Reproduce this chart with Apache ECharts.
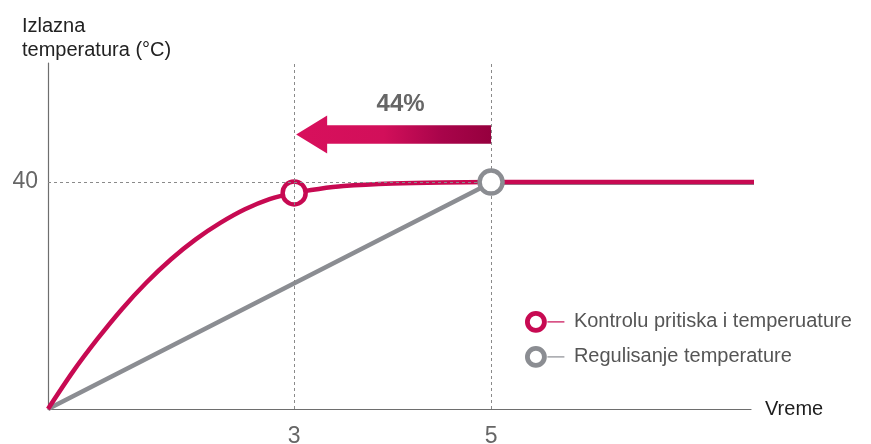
<!DOCTYPE html>
<html>
<head>
<meta charset="utf-8">
<script src="https://cdn.jsdelivr.net/npm/echarts@6/dist/echarts.min.js"></script>
<style>
  html, body { margin: 0; padding: 0; background: #fff; }
  #chart { width: 871px; height: 444px; }
</style>
</head>
<body>
<div id="chart"></div>
<script>
// Time values (x) and outlet temperature readings (°C) for each regulation mode
const pressureTimes = [0.5, 0.75, 1.0, 1.25, 1.5, 1.75, 2.0, 2.25, 2.5, 2.75, 3.0, 3.25, 3.5, 4.0, 4.5, 5, 7.7];
const pressureTemps = [0, 6.5, 12.3, 17.6, 22.3, 26.4, 29.9, 32.8, 35.2, 37.0, 38.1, 38.8, 39.3, 39.75, 39.95, 40, 40];
const tempOnlyTimes = [0.5, 5, 7.7];
const tempOnlyTemps = [0, 39.9, 39.9];

// Highlighted points where each mode reaches the target temperature
const pressureMark = [3, 38.1];
const tempOnlyMark = [5, 40];

// Axis tick labels and guide values
const xTickLabels = [3, 5];
const yTickLabels = [40];
const targetTemp = 40;

// Time-saving arrow (from the slower mode to the faster one) and its text
const savingFrom = 5;
const savingTo = 3;
const savingLevel = 48.4;
const savingText = '44%';

const seriesNames = ['Kontrolu pritiska i temperuature', 'Regulisanje temperature'];

const RED = '#c70a52';
const GRAY = '#8b8d92';
const FONT = '"Liberation Sans", Arial, Helvetica, sans-serif';

const chart = echarts.init(document.getElementById('chart'));

const dashed = { color: '#8a8a8a', width: 1, type: [3, 3] };

const option = {
  animation: false,
  textStyle: { fontFamily: FONT },
  title: {
    text: 'Izlazna\ntemperatura (°C)',
    left: 17,
    top: 9,
    textStyle: { fontFamily: FONT, fontSize: 20, fontWeight: 'normal', color: '#222', lineHeight: 24 }
  },
  grid: { left: 48, right: 120, top: 63, bottom: 35, outerBoundsMode: 'none', containLabel: false },
  xAxis: {
    type: 'value',
    min: 0.5,
    max: 7.64,
    name: 'Vreme',
    nameLocation: 'end',
    nameGap: 14,
    nameTextStyle: { fontFamily: FONT, fontSize: 20, color: '#1e1e1e', verticalAlign: 'middle', padding: [4, 0, 0, 0] },
    axisLine: { lineStyle: { color: '#6e6e6e', width: 1.2 } },
    axisTick: { show: false },
    splitLine: { show: false },
    axisLabel: {
      customValues: xTickLabels,
      fontSize: 23,
      color: '#666',
      margin: 16
    }
  },
  yAxis: {
    type: 'value',
    min: 0,
    max: 61,
    axisLine: { show: true, lineStyle: { color: '#6e6e6e', width: 1.2 } },
    axisTick: { show: false },
    splitLine: { show: false },
    axisLabel: {
      customValues: yTickLabels,
      fontSize: 23,
      color: '#666',
      margin: 10,
      padding: [3, 0, 0, 0]
    }
  },
  series: [
    {
      name: 'guides',
      type: 'line',
      data: [],
      silent: true,
      markLine: {
        silent: true,
        symbol: 'none',
        label: { show: false },
        lineStyle: dashed,
        data: [
          [{ coord: [xTickLabels[0], 0] }, { coord: [xTickLabels[0], 61] }],
          [{ coord: [xTickLabels[1], 0] }, { coord: [xTickLabels[1], 61] }],
          [{ coord: [0.5, targetTemp] }, { coord: [xTickLabels[1], targetTemp] }]
        ]
      },
      z: 1
    },
    {
      name: seriesNames[1],
      type: 'line',
      data: tempOnlyTimes.map((t, i) => [t, tempOnlyTemps[i]]),
      showSymbol: false,
      clip: false,
      lineStyle: { color: GRAY, width: 4.5 },
      z: 2
    },
    {
      name: seriesNames[0],
      type: 'line',
      data: pressureTimes.map((t, i) => [t, pressureTemps[i]]),
      smooth: 0.3,
      showSymbol: false,
      clip: false,
      lineStyle: { color: RED, width: 4.5 },
      z: 3
    },
    {
      type: 'scatter',
      data: [pressureMark],
      symbol: 'circle',
      symbolSize: 23,
      itemStyle: { color: '#fff', borderColor: RED, borderWidth: 4.5, opacity: 1 },
      z: 4
    },
    {
      type: 'scatter',
      data: [tempOnlyMark],
      symbol: 'circle',
      symbolSize: 23,
      itemStyle: { color: '#fff', borderColor: GRAY, borderWidth: 4.5, opacity: 1 },
      z: 5
    },
    {
      type: 'custom',
      data: [[savingFrom, savingLevel, savingTo]],
      clip: false,
      z: 6,
      renderItem: function (params, api) {
        const tail = api.coord([api.value(0), api.value(1)]);
        const tip = api.coord([api.value(2), api.value(1)]);
        const y = tail[1];
        const bodyHalf = 9.3;
        const headHalf = 19;
        const headLen = 31;
        const tx = tip[0] + 2;
        const hx = tx + headLen;
        return {
          type: 'group',
          children: [
            {
              type: 'polygon',
              shape: {
                points: [
                  [tx, y], [hx, y - headHalf], [hx, y - bodyHalf], [tail[0], y - bodyHalf],
                  [tail[0], y + bodyHalf], [hx, y + bodyHalf], [hx, y + headHalf]
                ]
              },
              style: {
                fill: new echarts.graphic.LinearGradient(0, 0, 1, 0, [
                  { offset: 0, color: '#d8105c' },
                  { offset: 0.45, color: '#d20f5a' },
                  { offset: 0.75, color: '#a8044a' },
                  { offset: 1, color: '#96003e' }
                ])
              }
            },
            {
              type: 'text',
              x: (tx + tail[0]) / 2 + 7,
              y: y - 30,
              style: {
                text: savingText,
                fontFamily: FONT,
                fontSize: 24,
                fontWeight: 'bold',
                fill: '#666',
                align: 'center',
                verticalAlign: 'middle'
              }
            }
          ]
        };
      }
    }
  ],
  graphic: [
    {
      type: 'group',
      left: 525,
      top: 311,
      children: [
        { type: 'circle', shape: { cx: 9.5, cy: 10.5, r: 8.5 }, style: { fill: '#fff', stroke: RED, lineWidth: 4.8 } },
        { type: 'line', shape: { x1: 21, y1: 10.5, x2: 38, y2: 10.5 }, style: { stroke: RED, lineWidth: 1.2 } },
        { type: 'text', x: 47.5, y: 10.5, style: { text: seriesNames[0], fontFamily: FONT, fontSize: 20, fill: '#555', verticalAlign: 'middle' } },
        { type: 'circle', shape: { cx: 9.5, cy: 45.5, r: 8.5 }, style: { fill: '#fff', stroke: GRAY, lineWidth: 4.8 } },
        { type: 'line', shape: { x1: 21, y1: 45.5, x2: 38, y2: 45.5 }, style: { stroke: GRAY, lineWidth: 1.2 } },
        { type: 'text', x: 47.5, y: 45.5, style: { text: seriesNames[1], fontFamily: FONT, fontSize: 20, fill: '#555', verticalAlign: 'middle' } }
      ]
    }
  ]
};

chart.setOption(option);
</script>
</body>
</html>
